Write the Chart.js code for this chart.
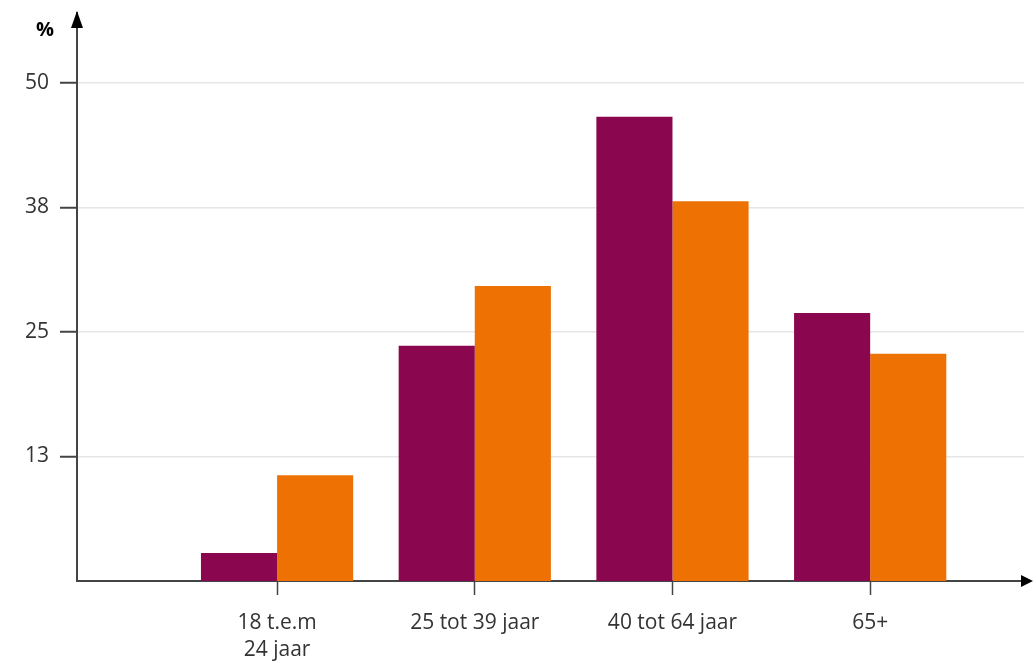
<!DOCTYPE html>
<html>
<head>
<meta charset="utf-8">
<script src="https://cdn.jsdelivr.net/npm/chart.js@4"></script>
<style>
  html, body { margin: 0; padding: 0; background: #fff; }
  #wrap { width: 1033px; height: 663px; }
</style>
</head>
<body>
<div id="wrap"><canvas id="chart"></canvas></div>
<script>
var ageGroups = [["18 t.e.m", "24 jaar"], "25 tot 39 jaar", "40 tot 64 jaar", "65+"];
var seriesPurple = [2.8, 23.6, 46.6, 26.9];
var seriesOrange = [10.6, 29.6, 38.1, 22.8];
var yTicks = [12.5, 25, 37.5, 50];

var axisColor = '#444444';

// arrows at the ends of both axes and the "%" label
var axisArrows = {
  id: 'axisArrows',
  afterDraw: function (chart) {
    var ctx = chart.ctx, a = chart.chartArea;
    var y0 = chart.scales.y.getPixelForValue(0);
    ctx.save();
    ctx.fillStyle = '#000';
    // y arrow
    ctx.beginPath();
    ctx.moveTo(a.left, a.top - 2);
    ctx.lineTo(a.left - 6, a.top + 15);
    ctx.lineTo(a.left + 6, a.top + 15);
    ctx.closePath();
    ctx.fill();
    // x arrow
    ctx.beginPath();
    ctx.moveTo(a.right + 9, y0);
    ctx.lineTo(a.right - 3, y0 - 6);
    ctx.lineTo(a.right - 3, y0 + 6);
    ctx.closePath();
    ctx.fill();
    ctx.font = 'bold 20px "Open Sans"';
    ctx.textAlign = 'center';
    ctx.textBaseline = 'alphabetic';
    ctx.fillText('%', 45, 36);
    ctx.restore();
  }
};

new Chart(document.getElementById('chart'), {
  type: 'bar',
  data: {
    datasets: [{
      label: 'A',
      data: seriesPurple.map(function (v, i) { return { x: i, y: v }; }),
      backgroundColor: '#8a064e',
      categoryPercentage: 0.77,
      barPercentage: 1
    }, {
      label: 'B',
      data: seriesOrange.map(function (v, i) { return { x: i, y: v }; }),
      backgroundColor: '#ee7203',
      categoryPercentage: 0.77,
      barPercentage: 1
    }]
  },
  options: {
    responsive: true,
    maintainAspectRatio: false,
    animation: false,
    layout: { padding: { top: 13, right: 9, left: 0, bottom: 0 } },
    plugins: {
      legend: { display: false },
      tooltip: { enabled: false }
    },
    scales: {
      x: {
        type: 'linear',
        offset: false,
        min: -1.012,
        max: 3.778,
        afterBuildTicks: function (scale) {
          scale.ticks = ageGroups.map(function (g, i) { return { value: i }; });
        },
        afterFit: function (scale) {
          scale.height = 82;
          scale.paddingLeft = 0;
          scale.paddingRight = 0;
        },
        ticks: {
          autoSkip: false,
          maxRotation: 0,
          padding: 14,
          color: '#333',
          font: { family: '"Open Sans"', size: 21, lineHeight: 1.3 },
          callback: function (v) { return ageGroups[v]; }
        },
        grid: {
          offset: false,
          drawOnChartArea: false,
          tickLength: 14,
          tickColor: axisColor,
          tickWidth: 1.5
        },
        border: { color: axisColor, width: 2 }
      },
      y: {
        min: 0,
        max: 57,
        afterBuildTicks: function (scale) {
          scale.ticks = yTicks.map(function (v) { return { value: v }; });
        },
        afterFit: function (scale) {
          scale.width = 77;
          scale.paddingTop = 0;
          scale.paddingBottom = 0;
        },
        ticks: {
          padding: 11,
          color: '#333',
          font: { family: '"Open Sans"', size: 21 },
          callback: function (v) { return Math.round(v); }
        },
        grid: {
          color: '#e6e6e6',
          tickColor: axisColor,
          tickLength: 17,
          lineWidth: 1.5,
          tickWidth: 2
        },
        border: { color: axisColor, width: 2 }
      }
    }
  },
  plugins: [axisArrows]
});
</script>
</body>
</html>
